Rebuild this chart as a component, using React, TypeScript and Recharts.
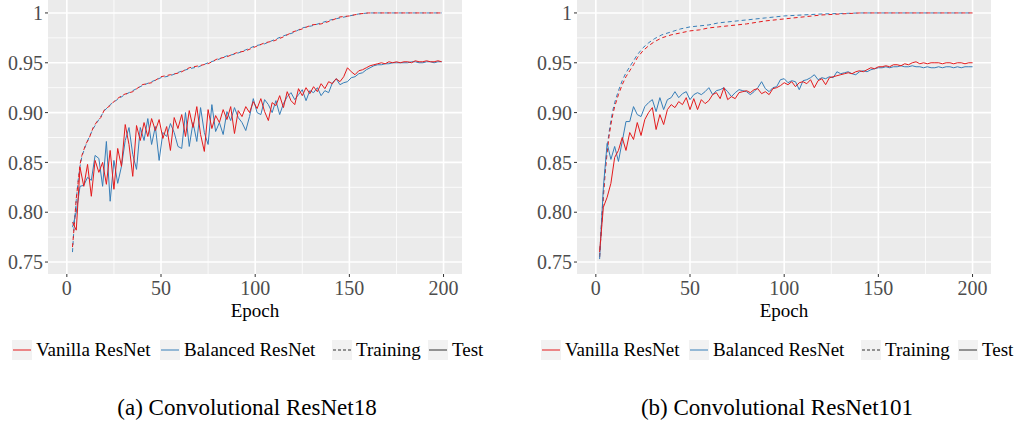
import React from "react"
import { LineChart, Line, XAxis, YAxis, CartesianGrid } from "recharts"

// epochs (x values)
const testEpochsA = Array.from({ length: 99 }, (_, i) => 3 + i * 2)
const testEpochsB = Array.from({ length: 100 }, (_, i) => 2 + i * 2)
const trainEpochsA = [3, 4, 5, 6, 7, 8, 10, 12, 14, 16, 18, 20, 23, 26, 30, 35, 40, 45, 50, 55, 60, 65, 70, 75, 80, 85, 90, 95, 100, 105, 110, 115, 120, 125, 130, 135, 140, 145, 150, 155, 160, 170, 180, 190, 199]
const trainEpochsB = [2, 3, 4, 5, 6, 7, 8, 9, 10, 12, 14, 16, 18, 20, 22, 25, 28, 31, 35, 40, 45, 50, 55, 60, 65, 70, 80, 90, 100, 110, 120, 130, 140, 150, 160, 170, 180, 190, 200]

// ResNet18
const vanillaTestA = [
  0.790, 0.782, 0.845, 0.826, 0.848, 0.816, 0.852, 0.840, 0.850, 0.828,
  0.862, 0.823, 0.864, 0.846, 0.888, 0.868, 0.836, 0.887, 0.872, 0.890,
  0.876, 0.894, 0.882, 0.893, 0.874, 0.886, 0.862, 0.895, 0.884, 0.898,
  0.876, 0.902, 0.885, 0.906, 0.878, 0.861, 0.903, 0.884, 0.897, 0.890,
  0.903, 0.893, 0.906, 0.879, 0.902, 0.896, 0.906, 0.900, 0.911, 0.904,
  0.914, 0.901, 0.892, 0.910, 0.907, 0.917, 0.905, 0.921, 0.912, 0.908,
  0.924, 0.917, 0.925, 0.919, 0.926, 0.921, 0.929, 0.924, 0.931, 0.929,
  0.934, 0.931, 0.936, 0.945, 0.941, 0.938, 0.942, 0.943, 0.945, 0.947,
  0.948, 0.949, 0.950, 0.949, 0.951, 0.950, 0.951, 0.950, 0.951, 0.951,
  0.950, 0.952, 0.951, 0.951, 0.952, 0.951, 0.951, 0.952, 0.951,
]
const balancedTestA = [
  0.785, 0.800, 0.826, 0.827, 0.835, 0.832, 0.857, 0.854, 0.826, 0.871,
  0.811, 0.852, 0.829, 0.846, 0.872, 0.885, 0.858, 0.843, 0.885, 0.872,
  0.894, 0.868, 0.886, 0.852, 0.880, 0.876, 0.889, 0.880, 0.866, 0.864,
  0.900, 0.866, 0.890, 0.871, 0.905, 0.880, 0.868, 0.908, 0.881, 0.890,
  0.878, 0.901, 0.892, 0.905, 0.895, 0.890, 0.882, 0.896, 0.914, 0.900,
  0.898, 0.913, 0.908, 0.900, 0.912, 0.898, 0.909, 0.916, 0.920, 0.913,
  0.918, 0.923, 0.912, 0.922, 0.920, 0.925, 0.917, 0.922, 0.920, 0.930,
  0.934, 0.928, 0.930, 0.931, 0.935, 0.936, 0.939, 0.940, 0.943, 0.945,
  0.947, 0.948, 0.948, 0.949, 0.949, 0.950, 0.950, 0.950, 0.950, 0.950,
  0.951, 0.951, 0.950, 0.950, 0.951, 0.951, 0.950, 0.951, 0.951,
]
const balancedTrainA = [
  0.760, 0.790, 0.812, 0.832, 0.846, 0.856, 0.867, 0.876, 0.884, 0.890, 0.896, 0.902,
  0.908, 0.912, 0.917, 0.922, 0.927, 0.931, 0.935, 0.937, 0.941, 0.944, 0.946, 0.950,
  0.953, 0.957, 0.959, 0.963, 0.967, 0.969, 0.973, 0.977, 0.980, 0.985, 0.987, 0.990,
  0.993, 0.995, 0.997, 0.999, 1.000, 1.000, 1.000, 1.000, 1.000,
]
const vanillaTrainA = [
  0.765, 0.788, 0.814, 0.830, 0.848, 0.857, 0.868, 0.875, 0.885, 0.891, 0.895, 0.903,
  0.907, 0.913, 0.918, 0.921, 0.928, 0.930, 0.936, 0.938, 0.940, 0.945, 0.947, 0.949,
  0.954, 0.956, 0.960, 0.962, 0.966, 0.970, 0.972, 0.976, 0.981, 0.984, 0.988, 0.989,
  0.992, 0.996, 0.997, 0.999, 1.000, 1.000, 1.000, 1.000, 1.000,
]

// ResNet101
const vanillaTestB = [
  0.760, 0.805, 0.815, 0.829, 0.855, 0.862, 0.875, 0.862, 0.880, 0.873,
  0.890, 0.877, 0.893, 0.900, 0.905, 0.883, 0.898, 0.888, 0.903, 0.908,
  0.905, 0.911, 0.908, 0.915, 0.903, 0.914, 0.903, 0.913, 0.909, 0.912,
  0.918, 0.920, 0.914, 0.925, 0.913, 0.916, 0.914, 0.920, 0.921, 0.922,
  0.920, 0.923, 0.924, 0.919, 0.921, 0.918, 0.924, 0.925, 0.927, 0.930,
  0.928, 0.931, 0.926, 0.930, 0.931, 0.929, 0.933, 0.925, 0.932, 0.934,
  0.928, 0.935, 0.936, 0.937, 0.938, 0.939, 0.940, 0.939, 0.941, 0.942,
  0.941, 0.943, 0.945, 0.944, 0.946, 0.946, 0.947, 0.946, 0.948, 0.948,
  0.947, 0.949, 0.948, 0.950, 0.951, 0.949, 0.950, 0.949, 0.950, 0.950,
  0.950, 0.949, 0.950, 0.950, 0.949, 0.950, 0.950, 0.949, 0.950, 0.950,
]
const balancedTestB = [
  0.753, 0.825, 0.869, 0.853, 0.866, 0.851, 0.871, 0.891, 0.891, 0.906,
  0.898, 0.896, 0.906, 0.910, 0.913, 0.901, 0.915, 0.903, 0.913, 0.915,
  0.921, 0.915, 0.919, 0.921, 0.913, 0.918, 0.920, 0.918, 0.921, 0.925,
  0.918, 0.922, 0.923, 0.925, 0.921, 0.916, 0.920, 0.923, 0.922, 0.921,
  0.918, 0.921, 0.925, 0.931, 0.924, 0.921, 0.925, 0.926, 0.933, 0.934,
  0.930, 0.932, 0.931, 0.923, 0.932, 0.933, 0.935, 0.938, 0.933, 0.935,
  0.934, 0.936, 0.935, 0.941, 0.939, 0.940, 0.941, 0.939, 0.938, 0.941,
  0.942, 0.941, 0.943, 0.944, 0.945, 0.945, 0.946, 0.945, 0.946, 0.946,
  0.947, 0.946, 0.946, 0.947, 0.946, 0.946, 0.945, 0.946, 0.945, 0.945,
  0.946, 0.945, 0.946, 0.946, 0.945, 0.946, 0.945, 0.946, 0.946, 0.946,
]
const balancedTrainB = [
  0.755, 0.790, 0.820, 0.845, 0.865, 0.880, 0.892, 0.902, 0.910,
  0.922, 0.932, 0.940, 0.946, 0.952, 0.958,
  0.965, 0.970, 0.974, 0.978,
  0.981, 0.984, 0.986, 0.987, 0.988, 0.990, 0.991,
  0.993, 0.995, 0.997, 0.998, 0.999, 0.9995, 1, 1, 1, 1, 1, 1, 1,
]
const vanillaTrainB = [
  0.755, 0.785, 0.815, 0.840, 0.860, 0.876, 0.888, 0.898, 0.906,
  0.918, 0.928, 0.936, 0.942, 0.948, 0.955,
  0.962, 0.967, 0.971, 0.975,
  0.978, 0.980, 0.982, 0.983, 0.985, 0.986, 0.987,
  0.989, 0.992, 0.994, 0.996, 0.998, 0.999, 1, 1, 1, 1, 1, 1, 1,
]

const xTicks = [0, 50, 100, 150, 200]
const yTicks = [0.75, 0.8, 0.85, 0.9, 0.95, 1]
const xMinor = [25, 75, 125, 175]
const yMinor = [0.775, 0.825, 0.875, 0.925, 0.975]

const RED = "#E41A1C"
const BLUE = "#377EB8"
const FONT = "'Liberation Serif', 'DejaVu Serif', serif"

const toRows = (epochs: number[], vals: number[]) => epochs.map((e, i) => ({ epoch: e, acc: vals[i] }))

type PanelProps = {
  left: number
  caption: string
  captionX: number
  legendX: number[]
  vanillaTest: number[]
  balancedTest: number[]
  vanillaTrain: number[]
  balancedTrain: number[]
  testEpochs: number[]
  trainEpochs: number[]
}

function LegendKey({ color, dashed }: { color: string; dashed?: boolean }) {
  return (
    <svg width={20} height={20} style={{ display: "block" }}>
      <rect x={0} y={0} width={20} height={20} fill="#F2F2F2" />
      <line x1={1} y1={10} x2={19} y2={10} stroke={color} strokeWidth={1} strokeDasharray={dashed ? "3 2" : undefined} />
    </svg>
  )
}

function Panel(p: PanelProps) {
  const legendItems = [
    { label: "Vanilla ResNet", color: RED },
    { label: "Balanced ResNet", color: BLUE },
    { label: "Training", color: "#333333", dashed: true },
    { label: "Test", color: "#333333" },
  ]
  const tickStyle = { fontSize: 20, fill: "#4D4D4D", fontFamily: FONT }
  return (
    <>
      <div style={{ position: "absolute", left: p.left, top: 0 }}>
        <LineChart width={470} height={330} margin={{ top: 0, right: 8, bottom: 0, left: 0 }}>
          <CartesianGrid fill="#EBEBEB" stroke="#FFFFFF" strokeWidth={0.8} horizontalValues={yMinor} verticalValues={xMinor} />
          <CartesianGrid fill="none" stroke="#FFFFFF" strokeWidth={1.6} horizontalValues={yTicks} verticalValues={xTicks} />
          <XAxis
            type="number"
            dataKey="epoch"
            domain={[-10, 209.8]}
            ticks={xTicks}
            allowDataOverflow
            axisLine={false}
            tickLine={{ stroke: "#333333" }}
            tickSize={3}
            tickMargin={4}
            tick={tickStyle}
            height={56}
            label={{ value: "Epoch", position: "insideBottom", offset: 13, fontSize: 19, fill: "#000", fontFamily: FONT }}
          />
          <YAxis
            type="number"
            domain={[0.738, 1.013]}
            ticks={yTicks}
            allowDataOverflow
            axisLine={false}
            tickLine={{ stroke: "#333333" }}
            tickSize={3}
            tickMargin={2}
            tick={tickStyle}
            width={48}
            tickFormatter={(v: number) => (v === 1 ? "1" : v.toFixed(2))}
          />
          <Line data={toRows(p.trainEpochs, p.balancedTrain)} dataKey="acc" stroke={BLUE} strokeWidth={1} strokeDasharray="4 3" dot={false} isAnimationActive={false} />
          <Line data={toRows(p.trainEpochs, p.vanillaTrain)} dataKey="acc" stroke={RED} strokeWidth={1} strokeDasharray="4 3" dot={false} isAnimationActive={false} />
          <Line data={toRows(p.testEpochs, p.balancedTest)} dataKey="acc" stroke={BLUE} strokeWidth={1} dot={false} isAnimationActive={false} />
          <Line data={toRows(p.testEpochs, p.vanillaTest)} dataKey="acc" stroke={RED} strokeWidth={1} dot={false} isAnimationActive={false} />
        </LineChart>
      </div>
      {legendItems.map((it, i) => (
        <div key={it.label} style={{ position: "absolute", left: p.legendX[i], top: 340, display: "flex", alignItems: "center", gap: 4 }}>
          <LegendKey color={it.color} dashed={it.dashed} />
          <span style={{ fontFamily: FONT, fontSize: 19, color: "#000", lineHeight: "20px", whiteSpace: "nowrap" }}>{it.label}</span>
        </div>
      ))}
      <div style={{ position: "absolute", left: p.captionX - 200, width: 400, top: 395, textAlign: "center", fontFamily: FONT, fontSize: 23, color: "#000", lineHeight: "26px" }}>
        {p.caption}
      </div>
    </>
  )
}

export default function App() {
  return (
    <div style={{ position: "absolute", left: 0, top: 0, width: 1017, height: 427, background: "#FFFFFF", overflow: "hidden" }}>
      <Panel
        left={0}
        caption="(a) Convolutional ResNet18"
        captionX={247}
        legendX={[12, 160, 332, 428]}
        vanillaTest={vanillaTestA}
        balancedTest={balancedTestA}
        vanillaTrain={vanillaTrainA}
        balancedTrain={balancedTrainA}
        testEpochs={testEpochsA}
        trainEpochs={trainEpochsA}
      />
      <Panel
        left={529}
        caption="(b) Convolutional ResNet101"
        captionX={777}
        legendX={[541, 689, 861, 958]}
        vanillaTest={vanillaTestB}
        balancedTest={balancedTestB}
        vanillaTrain={vanillaTrainB}
        balancedTrain={balancedTrainB}
        testEpochs={testEpochsB}
        trainEpochs={trainEpochsB}
      />
    </div>
  )
}
